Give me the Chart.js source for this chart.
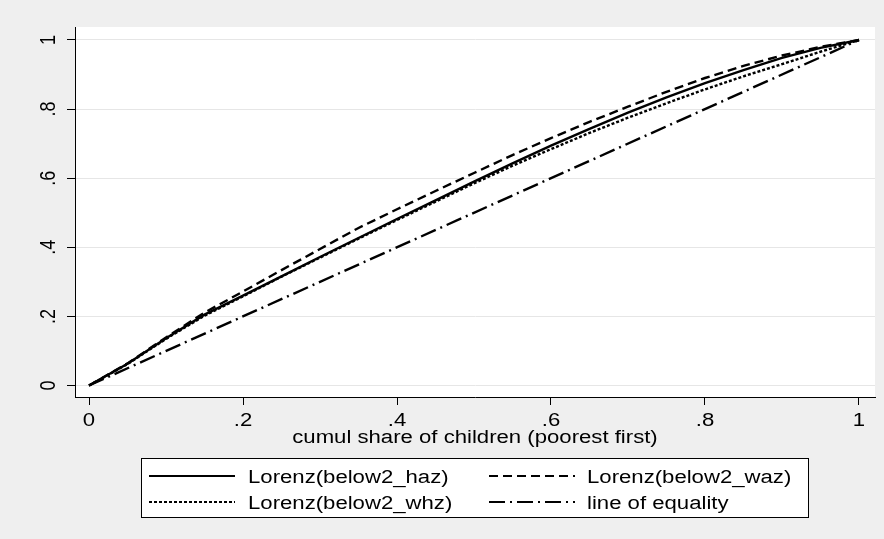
<!DOCTYPE html>
<html>
<head>
<meta charset="utf-8">
<title>Lorenz curves</title>
<script src="https://cdn.jsdelivr.net/npm/chart.js@4.4.1/dist/chart.umd.min.js"></script>
<style>
  html, body { margin: 0; padding: 0; background: #efefef; }
  canvas { display: block; }
</style>
</head>
<body>
<canvas id="lorenz" width="884" height="539"></canvas>
<script>
// cumulative share of children (poorest first)
var shareX = [0, 0.05, 0.1, 0.15, 0.2, 0.25, 0.3, 0.35, 0.4, 0.45, 0.5,
              0.55, 0.6, 0.65, 0.7, 0.75, 0.8, 0.85, 0.9, 0.95, 1];
var lorenzHaz = [0, 0.063, 0.137, 0.205, 0.26, 0.316, 0.372, 0.427, 0.482, 0.536, 0.59,
                 0.643, 0.694, 0.743, 0.79, 0.834, 0.875, 0.913, 0.948, 0.977, 1];
var lorenzWaz = [0, 0.064, 0.139, 0.211, 0.272, 0.334, 0.395, 0.456, 0.51, 0.563, 0.615,
                 0.667, 0.716, 0.763, 0.807, 0.85, 0.89, 0.925, 0.955, 0.98, 1];
var lorenzWhz = [0, 0.062, 0.135, 0.202, 0.258, 0.315, 0.37, 0.425, 0.479, 0.532, 0.585,
                 0.636, 0.684, 0.731, 0.775, 0.817, 0.857, 0.895, 0.93, 0.966, 1];
var equalityX = [0, 1];
var equalityY = [0, 1];

var seriesNames = ['Lorenz(below2_haz)', 'Lorenz(below2_waz)', 'Lorenz(below2_whz)', 'line of equality'];

var xTickValues = [0, 0.2, 0.4, 0.6, 0.8, 1];
var xTickLabels = ['0', '.2', '.4', '.6', '.8', '1'];
var yTickValues = [0, 0.2, 0.4, 0.6, 0.8, 1];
var yTickLabels = ['0', '.2', '.4', '.6', '.8', '1'];
var xTitle = 'cumul share of children (poorest first)';

// the original's text is a bit stretched sideways
var TEXT_FONT = '18px "Liberation Sans", Arial, sans-serif';
var TEXT_STRETCH = 1.23;

function toPoints(xs, ys) {
  return xs.map(function (x, i) { return { x: x, y: ys[i] }; });
}

function stretchedText(ctx, text, x, y, align, rotated) {
  ctx.save();
  ctx.translate(x, y);
  ctx.scale(TEXT_STRETCH, 1);
  if (rotated) ctx.rotate(-Math.PI / 2);
  ctx.font = TEXT_FONT;
  ctx.fillStyle = '#000';
  ctx.textAlign = align;
  ctx.textBaseline = 'alphabetic';
  ctx.fillText(text, 0, 0);
  ctx.restore();
}

function drawLegend(chart) {
  var ctx = chart.ctx;
  var box = { x: 141, y: 458, w: 667, h: 59 };

  ctx.save();
  ctx.fillStyle = '#fff';
  ctx.fillRect(box.x, box.y, box.w, box.h);
  ctx.strokeStyle = '#000';
  ctx.lineWidth = 1;
  ctx.strokeRect(box.x + 0.5, box.y + 0.5, box.w, box.h);
  ctx.restore();

  var colLine = [149, 489];
  var colText = [248, 587];
  var rowY = [476, 502];

  chart.data.datasets.forEach(function (ds, i) {
    var col = i % 2, row = Math.floor(i / 2);
    ctx.save();
    ctx.strokeStyle = ds.borderColor;
    ctx.lineWidth = 2;
    ctx.setLineDash(ds.borderDash || []);
    ctx.beginPath();
    ctx.moveTo(colLine[col], rowY[row]);
    ctx.lineTo(colLine[col] + 86, rowY[row]);
    ctx.stroke();
    ctx.restore();
    stretchedText(ctx, ds.label, colText[col], rowY[row] + 6.5, 'left', false);
  });
}

var stataLook = {
  id: 'stataLook',
  beforeDraw: function (chart) {
    var ctx = chart.ctx, a = chart.chartArea;
    ctx.save();
    ctx.fillStyle = '#efefef';
    ctx.fillRect(0, 0, chart.width, chart.height);
    ctx.fillStyle = '#fff';
    ctx.fillRect(a.left, a.top, a.right - a.left, a.bottom - a.top);
    ctx.restore();
  },
  afterDraw: function (chart) {
    var ctx = chart.ctx, a = chart.chartArea;
    var xs = chart.scales.x, ys = chart.scales.y;

    xTickValues.forEach(function (v, i) {
      stretchedText(ctx, xTickLabels[i], xs.getPixelForValue(v), a.bottom + 29, 'center', false);
    });
    yTickValues.forEach(function (v, i) {
      stretchedText(ctx, yTickLabels[i], a.left - 20, ys.getPixelForValue(v), 'center', true);
    });
    stretchedText(ctx, xTitle, (a.left + a.right) / 2, a.bottom + 46, 'center', false);

    drawLegend(chart);
  }
};

function lineSet(label, points, dash) {
  return {
    label: label,
    data: points,
    showLine: true,
    borderColor: '#000',
    borderWidth: 2.4,
    borderDash: dash,
    pointRadius: 0,
    fill: false,
    tension: 0
  };
}

var canvas = document.getElementById('lorenz');

new Chart(canvas, {
  type: 'scatter',
  data: {
    datasets: [
      lineSet(seriesNames[0], toPoints(shareX, lorenzHaz), []),
      lineSet(seriesNames[1], toPoints(shareX, lorenzWaz), [9, 5]),
      lineSet(seriesNames[2], toPoints(shareX, lorenzWhz), [3, 2]),
      lineSet(seriesNames[3], toPoints(equalityX, equalityY), [16, 5, 2, 5])
    ]
  },
  options: {
    responsive: false,
    animation: false,
    layout: { padding: { top: 27, right: 9, left: 0, bottom: 0 } },
    plugins: {
      legend: { display: false },
      tooltip: { enabled: false }
    },
    scales: {
      x: {
        type: 'linear',
        min: -0.0182,
        max: 1.0208,
        afterBuildTicks: function (scale) {
          scale.ticks = xTickValues.map(function (v) { return { value: v }; });
        },
        afterFit: function (scale) { scale.height = 142; },
        ticks: { display: false },
        grid: { drawOnChartArea: false, drawTicks: true, tickLength: 8, tickColor: '#000', tickWidth: 1 },
        border: { color: '#000', width: 1 }
      },
      y: {
        type: 'linear',
        min: -0.0333,
        max: 1.0376,
        afterBuildTicks: function (scale) {
          scale.ticks = yTickValues.map(function (v) { return { value: v }; });
        },
        afterFit: function (scale) { scale.width = 75; },
        ticks: { display: false },
        grid: { color: '#e6e6e6', lineWidth: 1, drawTicks: true, tickLength: 8, tickColor: '#000', tickWidth: 1 },
        border: { color: '#000', width: 1 }
      }
    }
  },
  plugins: [stataLook]
});
</script>
</body>
</html>
